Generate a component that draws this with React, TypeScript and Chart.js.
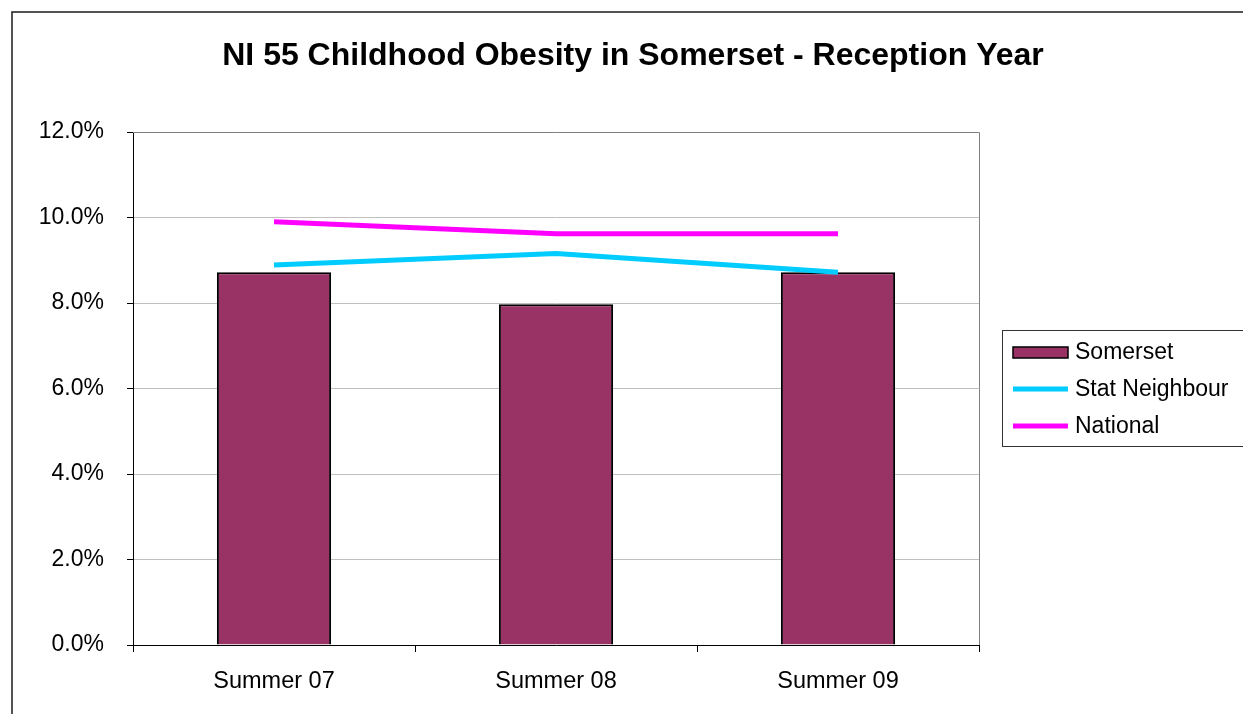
import React, { useEffect, useRef } from "react";
import { Chart, registerables } from "chart.js";

Chart.register(...registerables);

const categories = ["Summer 07", "Summer 08", "Summer 09"];
const somerset = [8.72, 7.97, 8.72];
const statNeighbour = [8.89, 9.16, 8.72];
const national = [9.9, 9.62, 9.62];
const yMin = 0;
const yMax = 12;
const yStep = 2;
const titleText = "NI 55 Childhood Obesity in Somerset - Reception Year";
const seriesLabels = ["Somerset", "Stat Neighbour", "National"];

const FONT = "'Liberation Sans', Arial, Helvetica, sans-serif";

const decorPlugin = {
  id: "decor",
  beforeDatasetsDraw(chart: any) {
    const { ctx, chartArea } = chart;
    ctx.save();
    ctx.strokeStyle = "#808080";
    ctx.lineWidth = 1;
    ctx.beginPath();
    ctx.moveTo(chartArea.left, Math.round(chartArea.top) + 0.5);
    ctx.lineTo(Math.round(chartArea.right) + 0.5, Math.round(chartArea.top) + 0.5);
    ctx.lineTo(Math.round(chartArea.right) + 0.5, chartArea.bottom);
    ctx.stroke();
    ctx.restore();
  },
  afterDraw(chart: any) {
    const { ctx } = chart;
    ctx.save();
    // outer chart frame
    ctx.strokeStyle = "#1a1a1a";
    ctx.lineWidth = 1.5;
    ctx.strokeRect(12, 12, 1400, 900);
    // title
    ctx.fillStyle = "#000";
    ctx.font = `bold 32px ${FONT}`;
    ctx.textAlign = "center";
    ctx.textBaseline = "middle";
    ctx.fillText(titleText, 633, 56);
    // legend
    ctx.strokeStyle = "#333";
    ctx.lineWidth = 1;
    ctx.strokeRect(1002.5, 330.5, 300, 116);
    ctx.font = `23px ${FONT}`;
    ctx.textAlign = "left";
    chart.data.datasets.forEach((ds: any, i: number) => {
      const y = 352 + i * 37;
      if (ds.type === "bar") {
        ctx.fillStyle = ds.backgroundColor;
        ctx.fillRect(1013, y - 5, 55, 11);
        ctx.strokeStyle = "#000";
        ctx.lineWidth = 1.5;
        ctx.strokeRect(1013, y - 5, 55, 11);
      } else {
        ctx.strokeStyle = ds.borderColor;
        ctx.lineWidth = 5;
        ctx.beginPath();
        ctx.moveTo(1013, y);
        ctx.lineTo(1068, y);
        ctx.stroke();
      }
      ctx.fillStyle = "#000";
      ctx.fillText(ds.label, 1075, y + 1);
    });
    ctx.restore();
  },
};

export default function App() {
  const ref = useRef<HTMLCanvasElement | null>(null);
  useEffect(() => {
    if (!ref.current) return;
    const chart = new Chart(ref.current, {
      type: "bar",
      data: {
        labels: categories,
        datasets: [
          {
            type: "bar",
            label: seriesLabels[0],
            data: somerset,
            backgroundColor: "#993366",
            borderColor: "#000000",
            borderWidth: 2,
            borderSkipped: "start",
            barPercentage: 0.405,
            categoryPercentage: 1,
            order: 2,
          } as any,
          {
            type: "line",
            label: seriesLabels[1],
            data: statNeighbour,
            borderColor: "#00ccff",
            backgroundColor: "#00ccff",
            borderWidth: 5,
            pointRadius: 0,
            tension: 0,
            order: 1,
          } as any,
          {
            type: "line",
            label: seriesLabels[2],
            data: national,
            borderColor: "#ff00ff",
            backgroundColor: "#ff00ff",
            borderWidth: 5,
            pointRadius: 0,
            tension: 0,
            order: 0,
          } as any,
        ],
      },
      options: {
        responsive: false,
        animation: false,
        layout: { padding: { left: 0, top: 132, right: 264, bottom: 0 } },
        plugins: {
          legend: { display: false },
          title: { display: false },
          tooltip: { enabled: false },
        },
        scales: {
          x: {
            offset: true,
            grid: {
              offset: true,
              drawOnChartArea: false,
              tickLength: 7,
              tickColor: "#000",
              tickWidth: 1,
            },
            border: { color: "#000", width: 1 },
            ticks: {
              color: "#000",
              padding: 15,
              font: { family: FONT, size: 23.5 },
              maxRotation: 0,
            },
            afterFit(scale: any) {
              scale.height = 69;
            },
          },
          y: {
            min: yMin,
            max: yMax,
            grid: {
              color: "#c0c0c0",
              tickColor: "#000",
              tickLength: 6,
              lineWidth: 1,
            },
            border: { color: "#000", width: 1 },
            ticks: {
              stepSize: yStep,
              color: "#000",
              padding: 23,
              font: { family: FONT, size: 23 },
              callback: (v: any) => `${Number(v).toFixed(1)}%`,
            },
            afterFit(scale: any) {
              scale.width = 133;
            },
          },
        },
      },
      plugins: [decorPlugin],
    });
    return () => chart.destroy();
  }, []);
  return (
    <div style={{ position: "fixed", left: 0, top: 0, width: 1243, height: 714, background: "#fff" }}>
      <canvas ref={ref} width={1243} height={714} style={{ display: "block" }} />
    </div>
  );
}
